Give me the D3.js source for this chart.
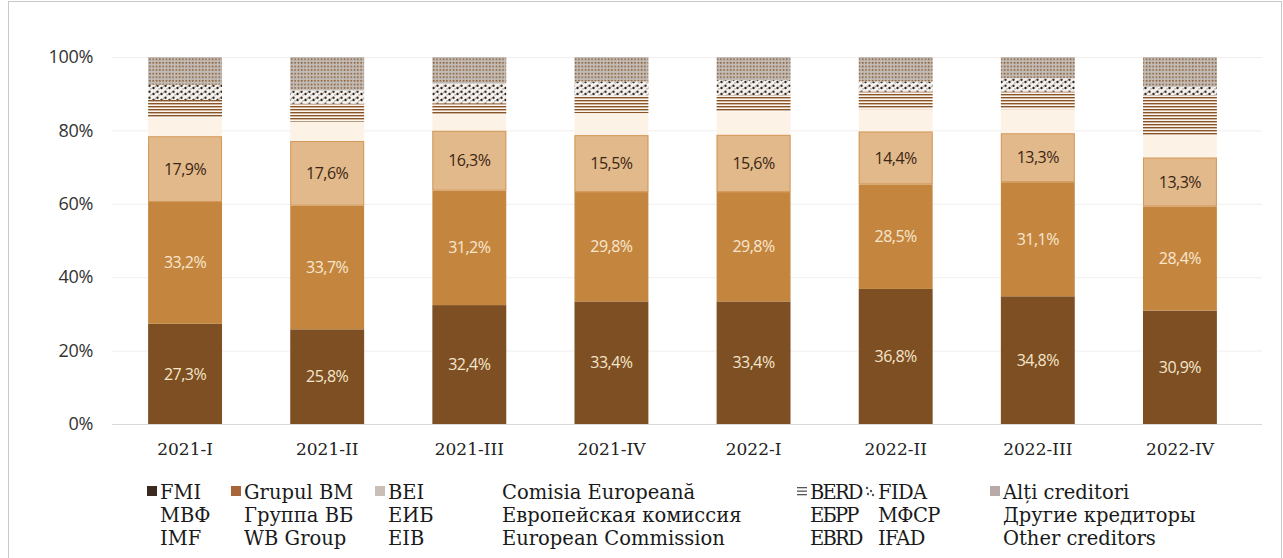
<!DOCTYPE html>
<html>
<head>
<meta charset="utf-8">
<script src="https://cdn.jsdelivr.net/npm/d3@7"></script>
<style>
  body { margin: 0; background: #fff; }
  svg { display: block; }
</style>
</head>
<body>
<div id="graph"></div>
<script>
// values (percent of total)
var periods = ["2021-I", "2021-II", "2021-III", "2021-IV", "2022-I", "2022-II", "2022-III", "2022-IV"];
var fmi      = [27.3, 25.8, 32.4, 33.4, 33.4, 36.8, 34.8, 30.9];
var grupulBM = [33.2, 33.7, 31.2, 29.8, 29.8, 28.5, 31.1, 28.4];
var bei      = [17.9, 17.6, 16.3, 15.5, 15.6, 14.4, 13.3, 13.3];
var comisia  = [5.0, 5.3, 4.5, 6.0, 6.3, 6.1, 6.6, 6.1];
var berd     = [4.9, 4.9, 3.0, 4.8, 4.5, 4.8, 4.8, 10.9];
var fida     = [4.1, 3.6, 5.4, 3.8, 4.1, 2.7, 3.6, 2.3];
var alti     = [7.6, 9.1, 7.2, 6.7, 6.3, 6.7, 5.8, 8.1];
var yTicks   = [0, 20, 40, 60, 80, 100];

var legendRo = ["FMI", "Grupul BM", "BEI", "Comisia Europeană", "BERD", "FIDA", "Alți creditori"];
var legendRu = ["МВФ", "Группа ВБ", "ЕИБ", "Европейская комиссия", "ЕБРР", "МФСР", "Другие кредиторы"];
var legendEn = ["IMF", "WB Group", "EIB", "European Commission", "EBRD", "IFAD", "Other creditors"];

var keys = ["fmi", "bm", "bei", "ce", "berd", "fida", "alti"];
var series = [fmi, grupulBM, bei, comisia, berd, fida, alti];

var width = 1283;
var height = 558;

var rows = periods.map(function(p, i) {
    var r = { period: p };
    keys.forEach(function(k, j) { r[k] = series[j][i]; });
    return r;
});

var svg = d3.select("#graph")
    .append("svg")
    .attr("width", width)
    .attr("height", height);

var defs = svg.append("defs");

// BERD: horizontal brown lines
var pBerd = defs.append("pattern").attr("id", "pBerd")
    .attr("patternUnits", "userSpaceOnUse").attr("width", 6).attr("height", 3);
pBerd.append("rect").attr("width", 6).attr("height", 3).attr("fill", "#fbf6f1");
pBerd.append("rect").attr("y", 1).attr("width", 6).attr("height", 1.4).attr("fill", "#8a5526");

// FIDA: speckled dots on white
var pFida = defs.append("pattern").attr("id", "pFida")
    .attr("patternUnits", "userSpaceOnUse").attr("width", 8).attr("height", 6);
pFida.append("rect").attr("width", 8).attr("height", 6).attr("fill", "#f4f1ee");
pFida.append("circle").attr("cx", 1.5).attr("cy", 4).attr("r", 1.2).attr("fill", "#2a221c");
pFida.append("circle").attr("cx", 5.5).attr("cy", 1.8).attr("r", 1.2).attr("fill", "#3e3024");
pFida.append("circle").attr("cx", 3.5).attr("cy", 2.5).attr("r", 0.9).attr("fill", "#b9b2ab");
pFida.append("circle").attr("cx", 7).attr("cy", 4.8).attr("r", 0.9).attr("fill", "#b9b2ab");

// Others: grey with rows of brown dots
var pAlti = defs.append("pattern").attr("id", "pAlti")
    .attr("patternUnits", "userSpaceOnUse").attr("width", 3.3).attr("height", 3.6);
pAlti.append("rect").attr("width", 3.3).attr("height", 3.6).attr("fill", "#c2bdb9");
pAlti.append("rect").attr("x", 0.6).attr("y", 0.8).attr("width", 1.6).attr("height", 1.6).attr("fill", "#8c5a2c");

var fills = {
    fmi: "#7d4f22",
    bm: "#c4863f",
    bei: "#e2b98b",
    ce: "#fdf2e6",
    berd: "url(#pBerd)",
    fida: "url(#pFida)",
    alti: "url(#pAlti)"
};
var labelColor = { fmi: "#f6e6cc", bm: "#f8e7cf", bei: "#3a2614" };

// frame
svg.append("rect")
    .attr("x", 8.5).attr("y", 1.5)
    .attr("width", width - 10).attr("height", height + 10)
    .attr("fill", "none").attr("stroke", "#c9c9c9");

var x = d3.scaleBand()
    .domain(periods)
    .range([114, 1251])
    .paddingInner(0.48)
    .paddingOuter(0.24);

var y = d3.scaleLinear()
    .domain([0, 100])
    .range([424, 57]);

// grid
svg.append("g")
    .selectAll("line")
    .data(yTicks)
    .enter()
    .append("line")
    .attr("x1", 112).attr("x2", 1262)
    .attr("y1", function(d) { return y(d) + 0.5; })
    .attr("y2", function(d) { return y(d) + 0.5; })
    .attr("stroke", function(d) { return d === 0 ? "#d9d9d9" : "#f1efed"; });

var yAxis = d3.axisLeft(y).tickValues(yTicks).tickSize(0).tickPadding(0)
    .tickFormat(function(d) { return d + "%"; });
var gy = svg.append("g").attr("transform", "translate(93,0)").call(yAxis);
gy.select(".domain").remove();
gy.selectAll("text")
    .attr("font-family", "'Open Sans', sans-serif")
    .attr("font-size", 18)
    .attr("letter-spacing", "-0.3")
    .attr("fill", "#333");

var xAxis = d3.axisBottom(x).tickSize(0).tickPadding(0);
var gx = svg.append("g").attr("transform", "translate(0,443)").call(xAxis);
gx.select(".domain").remove();
gx.selectAll("text")
    .attr("font-family", "'DejaVu Serif', serif")
    .attr("font-size", 17)
    .attr("fill", "#222");

var stacked = d3.stack().keys(keys)(rows);

var layers = svg.append("g")
    .selectAll("g")
    .data(stacked)
    .enter()
    .append("g")
    .attr("fill", function(d) { return fills[d.key]; });

layers.selectAll("rect")
    .data(function(d) { return d; })
    .enter()
    .append("rect")
    .attr("x", function(d) { return x(d.data.period); })
    .attr("y", function(d) { return y(d[1]); })
    .attr("width", x.bandwidth())
    .attr("height", function(d) { return y(d[0]) - y(d[1]); });

// thin orange edge on BEI
svg.append("g")
    .selectAll("rect")
    .data(stacked[2])
    .enter()
    .append("rect")
    .attr("x", function(d) { return x(d.data.period) + 0.5; })
    .attr("y", function(d) { return y(d[1]) + 0.5; })
    .attr("width", x.bandwidth() - 1)
    .attr("height", function(d) { return y(d[0]) - y(d[1]) - 1; })
    .attr("fill", "none")
    .attr("stroke", "#d49a5c")
    .attr("stroke-width", 1);

var fmt = function(v) { return d3.format(".1f")(v).replace(".", ",") + "%"; };

stacked.slice(0, 3).forEach(function(layer) {
    svg.append("g")
        .selectAll("text")
        .data(layer)
        .enter()
        .append("text")
        .attr("x", function(d) { return x(d.data.period) + x.bandwidth() / 2; })
        .attr("y", function(d) { return (y(d[0]) + y(d[1])) / 2; })
        .attr("dy", "0.35em")
        .attr("text-anchor", "middle")
        .attr("font-family", "'Open Sans', sans-serif")
        .attr("font-size", 16)
        .attr("letter-spacing", "-0.5")
        .attr("fill", labelColor[layer.key])
        .text(function(d) { return fmt(d.data[layer.key]); });
});

// legend
var legX = [160, 244, 388, 502, 810, 878, 1003];
var legSpacing = [0, 0, 0, 0, -1.8, -0.6, 0];
var legend = svg.append("g")
    .attr("font-family", "'DejaVu Serif', serif")
    .attr("font-size", 19.5)
    .attr("fill", "#1a1a1a");

[legendRo, legendRu, legendEn].forEach(function(line, r) {
    legend.append("g")
        .selectAll("text")
        .data(line)
        .enter()
        .append("text")
        .attr("x", function(d, i) { return legX[i]; })
        .attr("y", 499 + r * 23)
        .attr("letter-spacing", function(d, i) { return legSpacing[i]; })
        .text(function(d) { return d; });
});

var markerFill = ["#3b2a1f", "#a8653a", "#c9bfb6", "none", "none", "none", "#b8aaa6"];
legend.append("g")
    .selectAll("rect")
    .data(keys)
    .enter()
    .append("rect")
    .attr("x", function(d, i) { return legX[i] - 13; })
    .attr("y", 486)
    .attr("width", 10)
    .attr("height", 10)
    .attr("fill", function(d, i) { return markerFill[i]; });

// BERD marker: three short lines
legend.append("g")
    .selectAll("rect")
    .data([0, 1, 2])
    .enter()
    .append("rect")
    .attr("x", legX[4] - 13)
    .attr("y", function(d) { return 487 + d * 3.5; })
    .attr("width", 10)
    .attr("height", 1.3)
    .attr("fill", "#555");

// FIDA marker: a few dots
legend.append("g")
    .selectAll("circle")
    .data([[2, 2], [6, 5], [3, 8], [8, 9]])
    .enter()
    .append("circle")
    .attr("cx", function(d) { return legX[5] - 13 + d[0]; })
    .attr("cy", function(d) { return 486 + d[1]; })
    .attr("r", 1.2)
    .attr("fill", "#555");
</script>
</body>
</html>
